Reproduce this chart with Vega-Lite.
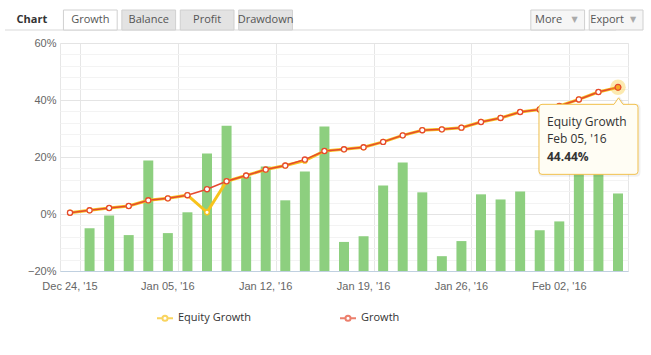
{
  "$schema": "https://vega.github.io/schema/vega-lite/v6.json",
  "padding": {"left": 4, "top": 9, "right": 5, "bottom": 5},
  "background": "white",
  "spacing": 5,
  "resolve": {"scale": {"color": "independent"}, "legend": {"color": "independent"}},
  "config": {
    "font": "Liberation Sans",
    "axis": {"labelFont": "Liberation Sans", "labelFontSize": 11, "labelColor": "#666666"}
  },
  "vconcat": [
    {
      "width": 583,
      "height": 20,
      "view": {"stroke": null},
      "data": {"values": [
        {"tab": "Chart", "kind": "label"},
        {"tab": "Growth", "kind": "selected"},
        {"tab": "Balance", "kind": "tab"},
        {"tab": "Profit", "kind": "tab"},
        {"tab": "Drawdown", "kind": "tab"},
        {"tab": "More", "kind": "button"},
        {"tab": "Export", "kind": "button"}
      ]},
      "encoding": {
        "x": {"field": "tab", "type": "nominal",
          "scale": {"type": "band", "domain": ["Chart", "Growth", "Balance", "Profit", "Drawdown", "s1", "s2", "s3", "s4", "More", "Export"], "paddingInner": 0.08, "paddingOuter": 0, "range": [-55, 583]},
          "axis": null}
      },
      "layer": [
        {
          "transform": [{"filter": "datum.kind === 'label'"}],
          "mark": {"type": "rule", "color": "#d9d9d9", "strokeWidth": 1},
          "encoding": {"x": {"datum": "Chart", "bandPosition": 0}, "x2": {"datum": "Export"}, "y": {"value": "height"}}
        },
        {
          "transform": [{"filter": "datum.kind !== 'label'"}],
          "mark": {"type": "rect", "stroke": "#d0d0d0", "strokeWidth": 1},
          "encoding": {
            "color": {"field": "kind", "type": "nominal", "scale": {"domain": ["selected", "tab", "button"], "range": ["#ffffff", "#e3e3e3", "#f6f6f6"]}, "legend": null}
          }
        },
        {
          "transform": [{"filter": "datum.kind === 'tab' || datum.kind === 'selected'"}],
          "mark": {"type": "text", "font": "Open Sans", "fontSize": 11, "color": "#555555"},
          "encoding": {"text": {"field": "tab"}}
        },
        {
          "transform": [{"filter": "datum.kind === 'label'"}],
          "mark": {"type": "text", "font": "Open Sans", "fontSize": 11, "fontWeight": "bold", "color": "#333333"},
          "encoding": {"text": {"field": "tab"}}
        },
        {
          "transform": [{"filter": "datum.kind === 'button'"}],
          "mark": {"type": "text", "font": "Open Sans", "fontSize": 11, "color": "#555555", "dx": -9},
          "encoding": {"text": {"field": "tab"}}
        },
        {
          "transform": [{"filter": "datum.kind === 'button'"}],
          "mark": {"type": "text", "font": "DejaVu Sans", "fontSize": 8, "color": "#aaaaaa", "dx": 17, "text": "▼"},
          "encoding": {}
        }
      ]
    },
    {
      "width": 568,
      "height": 228,
      "view": {"stroke": "#e6e6e6"},
      "resolve": {"axis": {"y": "independent"}},
      "data": {"values": [
        {"date": "Dec 24, '15", "Equity Growth": 0.45, "Growth": 0.45, "Daily": null},
        {"date": "Dec 29, '15", "Equity Growth": 1.3, "Growth": 1.3, "Daily": -5.0},
        {"date": "Dec 30, '15", "Equity Growth": 2.1, "Growth": 2.1, "Daily": -0.5},
        {"date": "Dec 31, '15", "Equity Growth": 2.8, "Growth": 2.8, "Daily": -7.4},
        {"date": "Jan 04, '16", "Equity Growth": 4.8, "Growth": 4.8, "Daily": 18.8},
        {"date": "Jan 05, '16", "Equity Growth": 5.5, "Growth": 5.5, "Daily": -6.7},
        {"date": "Jan 06, '16", "Equity Growth": 6.6, "Growth": 6.6, "Daily": 0.6},
        {"date": "Jan 07, '16", "Equity Growth": 0.6, "Growth": 8.7, "Daily": 21.2},
        {"date": "Jan 08, '16", "Equity Growth": 11.5, "Growth": 11.5, "Daily": 31.0},
        {"date": "Jan 11, '16", "Equity Growth": 13.5, "Growth": 13.5, "Daily": 13.2},
        {"date": "Jan 12, '16", "Equity Growth": 15.6, "Growth": 15.6, "Daily": 16.7},
        {"date": "Jan 13, '16", "Equity Growth": 17.0, "Growth": 17.0, "Daily": 4.8},
        {"date": "Jan 14, '16", "Equity Growth": 18.7, "Growth": 19.1, "Daily": 14.9},
        {"date": "Jan 15, '16", "Equity Growth": 22.1, "Growth": 22.1, "Daily": 30.7},
        {"date": "Jan 18, '16", "Equity Growth": 22.7, "Growth": 22.7, "Daily": -9.8},
        {"date": "Jan 19, '16", "Equity Growth": 23.4, "Growth": 23.4, "Daily": -7.8},
        {"date": "Jan 20, '16", "Equity Growth": 25.3, "Growth": 25.3, "Daily": 10.0},
        {"date": "Jan 21, '16", "Equity Growth": 27.6, "Growth": 27.6, "Daily": 18.1},
        {"date": "Jan 22, '16", "Equity Growth": 29.4, "Growth": 29.4, "Daily": 7.6},
        {"date": "Jan 25, '16", "Equity Growth": 29.7, "Growth": 29.7, "Daily": -14.8},
        {"date": "Jan 26, '16", "Equity Growth": 30.3, "Growth": 30.3, "Daily": -9.5},
        {"date": "Jan 27, '16", "Equity Growth": 32.3, "Growth": 32.3, "Daily": 6.9},
        {"date": "Jan 28, '16", "Equity Growth": 33.7, "Growth": 33.7, "Daily": 5.1},
        {"date": "Jan 29, '16", "Equity Growth": 35.8, "Growth": 35.8, "Daily": 7.9},
        {"date": "Feb 01, '16", "Equity Growth": 36.7, "Growth": 36.7, "Daily": -5.7},
        {"date": "Feb 02, '16", "Equity Growth": 37.9, "Growth": 37.9, "Daily": -2.6},
        {"date": "Feb 03, '16", "Equity Growth": 40.2, "Growth": 40.2, "Daily": 17.0},
        {"date": "Feb 04, '16", "Equity Growth": 42.8, "Growth": 42.8, "Daily": 16.3},
        {"date": "Feb 05, '16", "Equity Growth": 44.44, "Growth": 44.44, "Daily": 7.2}
      ]},
      "encoding": {
        "x": {"field": "date", "type": "ordinal", "sort": null,
          "scale": {"type": "band", "paddingInner": 0.49, "paddingOuter": 0.256,
            "domain": ["Dec 24, '15", "Dec 29, '15", "Dec 30, '15", "Dec 31, '15", "Jan 04, '16", "Jan 05, '16", "Jan 06, '16", "Jan 07, '16", "Jan 08, '16", "Jan 11, '16", "Jan 12, '16", "Jan 13, '16", "Jan 14, '16", "Jan 15, '16", "Jan 18, '16", "Jan 19, '16", "Jan 20, '16", "Jan 21, '16", "Jan 22, '16", "Jan 25, '16", "Jan 26, '16", "Jan 27, '16", "Jan 28, '16", "Jan 29, '16", "Feb 01, '16", "Feb 02, '16", "Feb 03, '16", "Feb 04, '16", "Feb 05, '16"]},
          "axis": {"title": null, "values": ["Dec 24, '15", "Jan 05, '16", "Jan 12, '16", "Jan 19, '16", "Jan 26, '16", "Feb 02, '16"],
            "grid": true, "gridColor": "#e6e6e6", "bandPosition": 1.55, "labelOffset": 0, "ticks": false, "tickSize": 0,
            "labelPadding": 9, "labelAngle": 0, "domainColor": "#c0d0e0", "domainWidth": 1}}
      },
      "layer": [
        {
          "mark": {"type": "bar", "color": "#8dcf7f"},
          "encoding": {
            "y": {"field": "Daily", "type": "quantitative",
              "scale": {"domain": [-20, 60], "nice": false, "zero": false},
              "axis": {"title": null, "orient": "left", "values": [-20, 0, 20, 40, 60],
                "format": "d", "labelExpr": "datum.label + '%'", "labelOverlap": false,
                "gridColor": "#e4e4e4", "domain": false, "ticks": false, "tickSize": 0, "labelPadding": 4, "minExtent": 55}},
            "y2": {"datum": -20}
          }
        },
        {
          "transform": [{"fold": ["Equity Growth", "Growth"], "as": ["series", "value"]}, {"filter": "datum.series === 'Equity Growth'"}],
          "mark": {"type": "line", "strokeWidth": 3},
          "encoding": {
            "y": {"field": "value", "type": "quantitative", "axis": null},
            "color": {"field": "series", "type": "nominal",
              "scale": {"domain": ["Equity Growth", "Growth"], "range": ["#f7c31c", "#e5492f"]},
              "legend": {"orient": "none", "legendX": 96, "legendY": 266, "direction": "horizontal", "title": null,
                "symbolType": "M-1,0L-0.32,0M0.32,0L1,0M0.32,0A0.32,0.32,0,1,1,-0.32,0A0.32,0.32,0,1,1,0.32,0",
                "symbolSize": 256, "symbolStrokeWidth": 2, "symbolFillColor": "#ffffff", "symbolOpacity": 0.7,
                "labelFont": "Open Sans", "labelFontSize": 11, "labelColor": "#333333", "columnPadding": 85, "labelOffset": 4,
                "encode": {"symbols": {"update": {"fill": {"value": "#ffffff"}}}}}}
          }
        },
        {
          "transform": [{"fold": ["Equity Growth", "Growth"], "as": ["series", "value"]}, {"filter": "datum.series === 'Growth'"}],
          "mark": {"type": "line", "strokeWidth": 1.5},
          "encoding": {
            "y": {"field": "value", "type": "quantitative", "axis": null},
            "color": {"field": "series", "type": "nominal"}
          }
        },
        {
          "transform": [{"fold": ["Equity Growth"], "as": ["series", "value"]}],
          "mark": {"type": "point", "filled": true, "fill": "#ffffff", "stroke": "#f7c31c", "strokeWidth": 1.5, "size": 22, "opacity": 1},
          "encoding": {"y": {"field": "value", "type": "quantitative",
            "axis": {"title": null, "orient": "left", "values": [-16, -12, -8, -4, 4, 8, 12, 16, 24, 28, 32, 36, 44, 48, 52, 56],
              "labels": false, "ticks": false, "domain": false, "grid": true, "gridColor": "#f3f3f3", "minExtent": 0, "maxExtent": 0}}}
        },
        {
          "transform": [{"fold": ["Growth"], "as": ["series", "value"]}],
          "mark": {"type": "point", "filled": true, "fill": "#ffffff", "stroke": "#e5492f", "strokeWidth": 1.3, "size": 26, "opacity": 1},
          "encoding": {"y": {"field": "value", "type": "quantitative", "axis": null}}
        },
        {
          "data": {"values": [{"date": "Feb 05, '16", "series": "Equity Growth", "value": 44.44, "pct": "44.44%"}]},
          "layer": [
            {"mark": {"type": "point", "filled": true, "color": "#f7c31c", "size": 240, "opacity": 0.35},
             "encoding": {"y": {"field": "value", "type": "quantitative", "axis": null}}},
            {"mark": {"type": "point", "filled": true, "fill": "#f6a623", "stroke": "#e5492f", "strokeWidth": 1.2, "size": 34, "opacity": 1},
             "encoding": {"y": {"field": "value", "type": "quantitative", "axis": null}}},
            {"mark": {"type": "point", "filled": false, "stroke": "#000000", "strokeWidth": 3, "strokeOpacity": 0.06, "opacity": 1, "size": 4, "xOffset": 1, "yOffset": 1,
               "shape": "M-76,17L-4,17L0.5,10.5L5,17L17,17Q20,17,20,20L20,84Q20,87,17,87L-76,87Q-79,87,-79,84L-79,20Q-79,17,-76,17Z"},
             "encoding": {"y": {"field": "value", "type": "quantitative", "axis": null}}},
            {"mark": {"type": "point", "filled": true, "fill": "#fffdf4", "stroke": "#f2c14e", "strokeWidth": 1, "opacity": 1, "size": 4,
               "shape": "M-76,17L-4,17L0.5,10.5L5,17L17,17Q20,17,20,20L20,84Q20,87,17,87L-76,87Q-79,87,-79,84L-79,20Q-79,17,-76,17Z"},
             "encoding": {"y": {"field": "value", "type": "quantitative", "axis": null}}},
            {"mark": {"type": "text", "align": "left", "baseline": "middle", "dx": -71, "dy": 34.5, "font": "Open Sans", "fontSize": 12, "color": "#333333"},
             "encoding": {"y": {"field": "value", "type": "quantitative", "axis": null}, "text": {"field": "series"}}},
            {"mark": {"type": "text", "align": "left", "baseline": "middle", "dx": -71, "dy": 52, "font": "Open Sans", "fontSize": 12, "color": "#333333"},
             "encoding": {"y": {"field": "value", "type": "quantitative", "axis": null}, "text": {"field": "date"}}},
            {"mark": {"type": "text", "align": "left", "baseline": "middle", "dx": -71, "dy": 70, "font": "Open Sans", "fontSize": 12, "fontWeight": "bold", "color": "#333333"},
             "encoding": {"y": {"field": "value", "type": "quantitative", "axis": null}, "text": {"field": "pct"}}}
          ]
        }
      ]
    }
  ]
}
